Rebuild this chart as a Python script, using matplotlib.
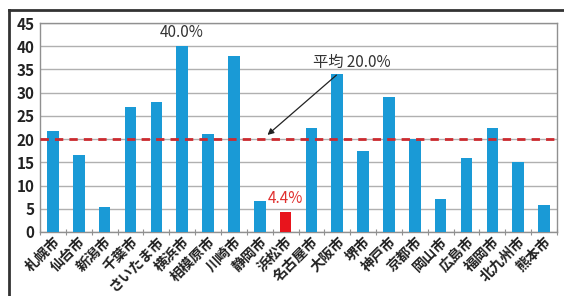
import matplotlib
matplotlib.use('agg')
import matplotlib.pyplot as plt
from matplotlib.lines import Line2D
import numpy as np

plt.rcParams['font.family'] = ['Noto Sans CJK JP', 'DejaVu Sans']

cities = ['札幌市', '仙台市', '新潟市', '千葉市', 'さいたま市', '横浜市', '相模原市',
          '川崎市', '静岡市', '浜松市', '名古屋市', '大阪市', '堺市', '神戸市', '京都市',
          '岡山市', '広島市', '福岡市', '北九州市', '熊本市']
values = [21.7, 16.5, 5.3, 27.0, 28.0, 40.0, 21.0, 38.0, 6.7, 4.4,
          22.4, 34.0, 17.5, 29.0, 20.1, 7.0, 16.0, 22.4, 15.0, 5.8]
average = 20.0
highlight = '浜松市'

fig = plt.figure(figsize=(5.64, 2.96), dpi=100)
ax = fig.add_axes([40/564, 64/296, 517/564, 209/296])

x = np.arange(len(cities))
colors = ['#e8141c' if c == highlight else '#1a9ad6' for c in cities]
ax.bar(x, values, width=0.45, color=colors, zorder=3)

ax.axhline(average, color='#cc2a2f', linestyle=(0, (3, 2.2)), linewidth=2, zorder=4)

ax.set_xlim(-0.5, len(cities) - 0.5)
ax.set_ylim(0, 45)
ax.set_yticks(np.arange(0, 46, 5))
ax.yaxis.grid(True, color='#b0b0b0', linewidth=1, zorder=0)
for s in ax.spines.values():
    s.set_color('#909090')
    s.set_linewidth(1)

ax.set_xticks(np.arange(-0.5, len(cities), 1), minor=False)
ax.set_xticklabels([])
ax.set_xticks(x, minor=True)
ax.set_xticklabels(cities, minor=True, rotation=45, ha='right', rotation_mode='anchor',
                   fontsize=10.2, fontweight='bold', color='#222222')
ax.tick_params(axis='x', which='minor', length=0, pad=1.5)
ax.tick_params(axis='x', which='major', length=4, color='#909090', direction='inout')
ax.tick_params(axis='y', length=0, labelsize=11, labelcolor='#222222', pad=4)
for lab in ax.get_yticklabels():
    lab.set_fontweight('bold')

imax = int(np.argmax(values))
ax.annotate(f'{values[imax]:.1f}%', (x[imax], values[imax]), xytext=(0, 4),
            textcoords='offset points', ha='center', va='bottom', fontsize=11,
            color='#333333')
ih = cities.index(highlight)
ax.annotate(f'{values[ih]:.1f}%', (x[ih], values[ih]), xytext=(0, 3),
            textcoords='offset points', ha='center', va='bottom', fontsize=11,
            color='#e0302f')

ax.annotate(f'平均 {average:.1f}%', xy=(8.3, 20.9), xytext=(10.05, 36.6),
            ha='left', va='center', fontsize=11, color='#333333',
            arrowprops=dict(arrowstyle='-|>', color='#222222', lw=0.9,
                            shrinkA=2, shrinkB=0, mutation_scale=9))

# outer frame of the original picture
fig.add_artist(Line2D([9/564, 1], [1 - 10/296, 1 - 10/296], color='#333333', linewidth=2,
                      transform=fig.transFigure))
fig.add_artist(Line2D([9/564, 9/564], [0, 1 - 10/296], color='#333333', linewidth=2,
                      transform=fig.transFigure))

fig.savefig('out.png', dpi=100)
